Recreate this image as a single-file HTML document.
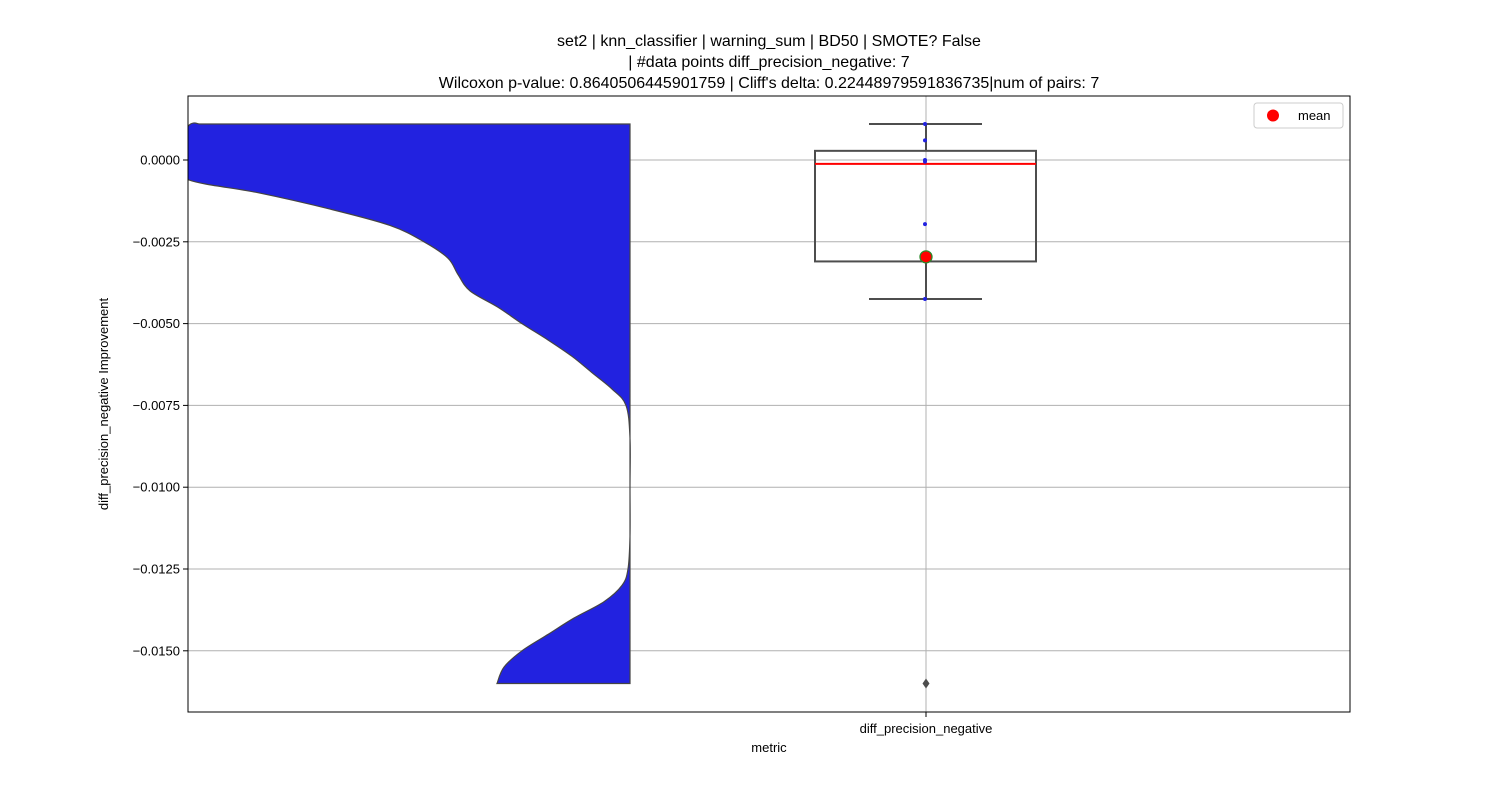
<!DOCTYPE html>
<html><head><meta charset="utf-8"><style>
body{margin:0;background:#fff;font-family:"Liberation Sans",sans-serif}
svg text{font-family:"Liberation Sans",sans-serif}
</style></head><body>
<svg id="c" width="1500" height="800" xmlns="http://www.w3.org/2000/svg">
<g font-size="16" text-anchor="middle" fill="#000">
<text x="769" y="46">set2 | knn_classifier | warning_sum | BD50 | SMOTE? False</text>
<text x="769" y="67">| #data points diff_precision_negative: 7</text>
<text x="769" y="88">Wilcoxon p-value: 0.8640506445901759 | Cliff's delta: 0.22448979591836735|num of pairs: 7</text>
</g>
<defs><clipPath id="clip"><rect x="188" y="96" width="1162" height="616"/></clipPath></defs>
<g id="grid"></g>
<g id="marks" clip-path="url(#clip)"></g>
<rect x="188" y="96" width="1162" height="616" fill="none" stroke="#000" stroke-width="1"/>
<g id="ticks"></g>
<text x="769" y="752" font-size="13" text-anchor="middle">metric</text>
<text transform="translate(108,404) rotate(-90)" font-size="13" text-anchor="middle">diff_precision_negative Improvement</text>
<g>
<rect x="1254" y="103" width="89" height="25" rx="3" fill="#fff" stroke="#ccc"/>
<circle cx="1273" cy="115.5" r="6" fill="#ff0000"/>
<text x="1298" y="120" font-size="13">mean</text>
</g>
</svg>
<script>
const yTicks=[0,-0.0025,-0.005,-0.0075,-0.01,-0.0125,-0.015];
const yTickLabels=["0.0000","\u22120.0025","\u22120.0050","\u22120.0075","\u22120.0100","\u22120.0125","\u22120.0150"];
const categories=["diff_precision_negative"];
const points=[0.0011,0.0006,0.0,-0.00005,-0.00196,-0.00296,-0.00425];
const outliers=[-0.0160];
const boxStats=[-0.00425,-0.0031,-0.00012,0.00028,0.0011];
const meanVal=[-0.00296];
const violinVals=[0.0011,0.00103,0.0,-0.0006,-0.0010,-0.0015,-0.0020,-0.0025,-0.0030,-0.0035,-0.0040,-0.0045,-0.0050,-0.0055,-0.0060,-0.0065,-0.0070,-0.0075,-0.0085,-0.0100,-0.0115,-0.0125,-0.0130,-0.0135,-0.0140,-0.0145,-0.0150,-0.0155,-0.0160];
const violinWidth=[430,442,460,442,372,300,240,206,182,172,160,132,108,82,58,38,18,4,0,0,0,2,8,26,56,82,108,126,133];
const NS="http://www.w3.org/2000/svg";
const Y=v=>160-v*32720;
const X=i=>926;
const violinX=630;
function el(t,a,p){const e=document.createElementNS(NS,t);for(const k in a)e.setAttribute(k,a[k]);p.appendChild(e);return e;}
const grid=document.getElementById('grid'),ticks=document.getElementById('ticks'),marks=document.getElementById('marks');
yTicks.forEach((v,i)=>{
 const g=el('line',{x1:188,x2:1350,y1:Y(v),y2:Y(v),stroke:'#b0b0b0','stroke-width':1},grid);
 
 
 el('line',{x1:183,x2:188,y1:Y(v),y2:Y(v),stroke:'#000'},ticks);
 const t=el('text',{x:180,y:Y(v)+4.5,'font-size':13,'text-anchor':'end'},ticks);
 t.textContent=yTickLabels[i];
 
 
});
categories.forEach((c,i)=>{
 const g=el('line',{x1:X(i),x2:X(i),y1:96,y2:712,stroke:'#b0b0b0'},grid);
 
 
 el('line',{x1:X(i),x2:X(i),y1:712,y2:717,stroke:'#000'},ticks);
 const t=el('text',{x:X(i),y:733,'font-size':13,'text-anchor':'middle'},ticks);
 t.textContent=c;
 
 
});
const pts=violinVals.map((v,i)=>[violinX-violinWidth[i],Y(v)]);
let d='M'+violinX+','+pts[0][1]+' L'+pts[0][0]+','+pts[0][1];
for(let i=0;i<pts.length-1;i++){
 const p0=pts[Math.max(0,i-1)],p1=pts[i],p2=pts[i+1],p3=pts[Math.min(pts.length-1,i+2)];
 const c1=[p1[0]+(p2[0]-p0[0])/6,p1[1]+(p2[1]-p0[1])/6];
 const c2=[p2[0]-(p3[0]-p1[0])/6,p2[1]-(p3[1]-p1[1])/6];
 d+=` C${c1[0]},${c1[1]} ${c2[0]},${c2[1]} ${p2[0]},${p2[1]}`;
}
d+=' L'+violinX+','+pts[pts.length-1][1]+' Z';
const vp=el('path',{d:d,fill:'#2222e0',stroke:'#444','stroke-width':1.2},marks);


const [lo,q1,med,q3,hi]=boxStats;const cx=X(0);
const bg=el('g',{stroke:'#4d4d4d','stroke-width':2,fill:'none'},marks);


el('line',{x1:cx,x2:cx,y1:Y(hi),y2:Y(q3)},bg);
el('line',{x1:cx,x2:cx,y1:Y(q1),y2:Y(lo)},bg);
el('line',{x1:cx-57,x2:cx+56,y1:Y(hi),y2:Y(hi)},bg);
el('line',{x1:cx-57,x2:cx+56,y1:Y(lo),y2:Y(lo)},bg);
el('rect',{x:cx-111,y:Y(q3),width:221,height:Y(q1)-Y(q3)},bg);
const ml=el('line',{x1:cx-111,x2:cx+110,y1:Y(med),y2:Y(med),stroke:'#ff0000','stroke-width':2},marks);


outliers.forEach(v=>{
 const o=el('path',{d:`M${cx},${Y(v)-5} L${cx+3.5},${Y(v)} L${cx},${Y(v)+5} L${cx-3.5},${Y(v)} Z`,fill:'#4d4d4d'},marks);
 
 
});
points.forEach(v=>{
 const p=el('circle',{cx:cx-1,cy:Y(v),r:2,fill:'#2222e0'},marks);
 
 
});
meanVal.forEach(v=>{
 const m=el('circle',{cx:cx,cy:Y(v),r:6,fill:'#ff0000',stroke:'#2a8a2a','stroke-width':1.3},marks);
 
 
});
</script>
</body></html>
